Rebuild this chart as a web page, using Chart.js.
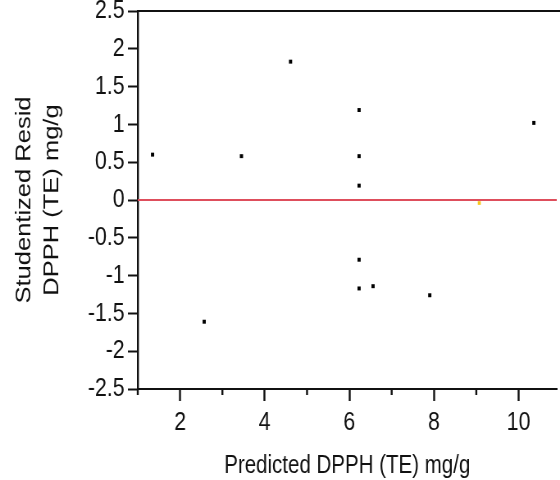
<!DOCTYPE html>
<html>
<head>
<meta charset="utf-8">
<script src="https://cdn.jsdelivr.net/npm/chart.js@4/dist/chart.umd.min.js"></script>
<style>
  html, body { margin: 0; padding: 0; background: #fff; overflow: hidden; }
  /* the source picture is squeezed sideways, so draw wide and squeeze it too */
  #residChart { transform: scaleX(0.8199); transform-origin: 0 0; }
</style>
</head>
<body>
<canvas id="residChart" width="683" height="480"></canvas>
<script>
// predicted vs studentized residual
const predicted = [1.35, 3.45, 4.61, 6.23, 6.23, 6.23, 10.36, 6.23, 6.23, 6.56, 7.90, 2.57];
const residuals = [0.60, 0.58, 1.83, 1.19, 0.58, 0.19, 1.02, -0.79, -1.17, -1.14, -1.26, -1.61];
// the one yellow point sitting on the zero line
const excludedX = [9.07];
const excludedY = [-0.04];
const xMin = 1, xMax = 10.9;
const yTicks = [-2.5, -2, -1.5, -1, -0.5, 0, 0.5, 1, 1.5, 2, 2.5];
const xLabels = [2, 4, 6, 8, 10];

const fontFam = "'Liberation Sans', Arial, sans-serif";

const pts = (xs, ys) => xs.map((x, i) => ({ x: x, y: ys[i] }));

const frame = {
    id: 'frame',
    afterDraw(chart) {
        const ctx = chart.ctx;
        const area = chart.chartArea;
        const xs = chart.scales.x;
        ctx.save();
        ctx.strokeStyle = '#111';
        // top border
        ctx.lineWidth = 2;
        ctx.beginPath();
        ctx.moveTo(area.left - 1, area.top);
        ctx.lineTo(chart.width, area.top);
        ctx.stroke();
        // short minor ticks on odd values
        ctx.lineWidth = 2.4;
        for (let v = 1; v <= 10; v += 2) {
            const px = xs.getPixelForValue(v);
            ctx.beginPath();
            ctx.moveTo(px, area.bottom);
            ctx.lineTo(px, area.bottom + 6);
            ctx.stroke();
        }
        ctx.restore();
    }
};

new Chart(document.getElementById('residChart'), {
    type: 'scatter',
    data: {
        datasets: [
            {
                type: 'line',
                data: [{ x: xMin, y: 0 }, { x: xMax, y: 0 }],
                borderColor: 'rgb(222, 78, 92)',
                borderWidth: 2,
                pointRadius: 0,
                order: 2
            },
            {
                data: pts(excludedX, excludedY),
                pointStyle: 'rect',
                pointRadius: 2.6,
                borderWidth: 0,
                backgroundColor: '#f7c81e',
                order: 3
            },
            {
                data: pts(predicted, residuals),
                pointStyle: 'rect',
                pointRadius: 2.8,
                borderWidth: 0,
                backgroundColor: '#000',
                order: 1
            }
        ]
    },
    options: {
        responsive: false,
        animation: false,
        layout: { padding: { top: 11, right: 0, left: 0, bottom: 0 } },
        plugins: { legend: { display: false }, tooltip: { enabled: false } },
        scales: {
            x: {
                type: 'linear',
                min: xMin,
                max: xMax,
                afterFit: s => { s.height = 91; s.paddingLeft = 0; s.paddingRight = 0; },
                border: { color: '#111', width: 2 },
                grid: {
                    drawOnChartArea: false,
                    tickLength: 12,
                    tickWidth: 2.4,
                    tickColor: c => xLabels.includes(c.tick.value) ? '#111' : 'rgba(0,0,0,0)'
                },
                ticks: {
                    stepSize: 1,
                    includeBounds: false,
                    autoSkip: false,
                    maxRotation: 0,
                    padding: 6,
                    color: '#111',
                    font: { family: fontFam, size: 26 },
                    callback: v => xLabels.includes(v) ? String(v) : ''
                },
                title: {
                    display: true,
                    text: 'Predicted DPPH (TE) mg/g',
                    color: '#111',
                    font: { family: fontFam, size: 25, lineHeight: 1.1 },
                    padding: { top: 4, bottom: 0 }
                }
            },
            y: {
                min: -2.5,
                max: 2.5,
                afterFit: s => { s.width = 168; s.paddingTop = 0; s.paddingBottom = 0; },
                afterBuildTicks: s => { s.ticks = yTicks.map(v => ({ value: v })); },
                border: { color: '#111', width: 2.4 },
                grid: { drawOnChartArea: false, tickLength: 12, tickWidth: 2, tickColor: '#111' },
                ticks: {
                    padding: 4,
                    color: '#111',
                    font: { family: fontFam, size: 26 },
                    callback: v => String(v)
                },
                title: {
                    display: true,
                    text: ['Studentized Resid', 'DPPH (TE) mg/g'],
                    color: '#111',
                    font: { family: fontFam, size: 25.5, lineHeight: 1.33 },
                    padding: { top: 13, bottom: 0 }
                }
            }
        }
    },
    plugins: [frame]
});
</script>
</body>
</html>
